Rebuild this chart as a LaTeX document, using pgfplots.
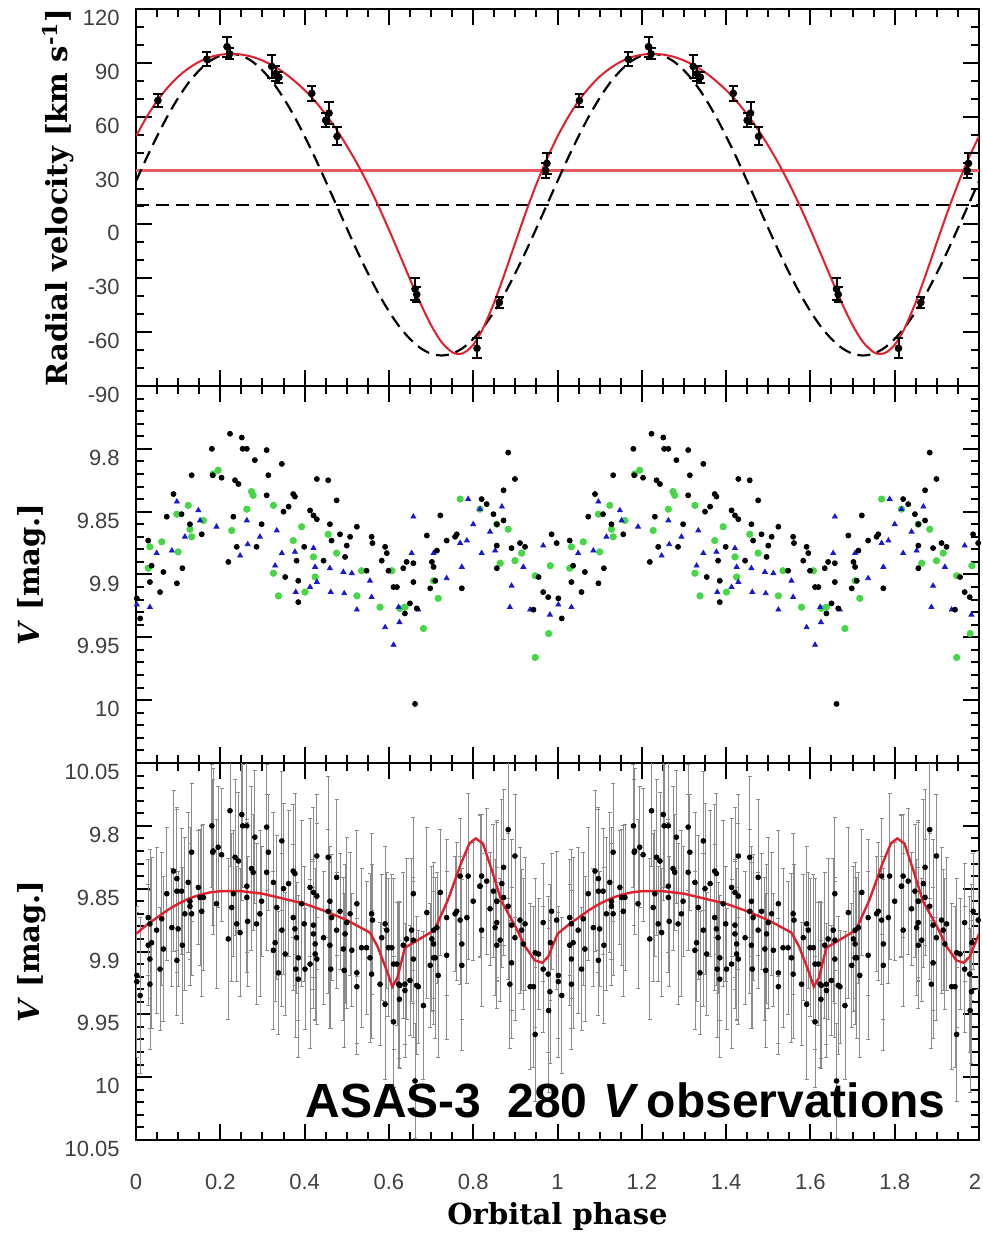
\documentclass[border=0pt]{standalone}
\usepackage{fontspec}
\setmainfont{Liberation Sans}
\newfontfamily\labfont{DejaVu Serif}
\usepackage{pgfplots}
\usepackage{pgfplotstable}
\pgfplotsset{compat=1.18}

\definecolor{fitred}{RGB}{224,32,44}
\definecolor{ptblue}{RGB}{25,25,210}
\definecolor{ptgreen}{RGB}{70,215,70}

% radial velocities (phase, km/s, error)
\pgfplotstableread{
p v e
0.052 69 3.5
0.168 92 4
0.216 99 5.5
0.222 95 3
0.322 88 6.5
0.331 84 4
0.339 82 3
0.417 73 4
0.458 62 6
0.450 58 4
0.477 49 5
0.662 -36 6
0.666 -39 4
0.809 -69 5.5
0.862 -43.5 3
0.975 34 6
0.972 30 4
}\rvdata

% eccentric orbit solution
\pgfplotstableread{
p v
0.000 49.1
0.025 59.7
0.050 68.8
0.075 76.2
0.100 82.3
0.125 87.0
0.150 90.6
0.175 93.1
0.200 94.5
0.225 95.0
0.250 94.6
0.275 93.4
0.300 91.3
0.325 88.4
0.350 84.7
0.375 80.1
0.400 74.8
0.425 68.6
0.450 61.3
0.475 53.1
0.500 43.8
0.525 33.7
0.550 22.5
0.575 10.3
0.600 -2.9
0.625 -16.6
0.650 -30.5
0.675 -44.0
0.700 -56.1
0.725 -65.6
0.750 -71.2
0.7625 -72.1
0.775 -71.8
0.7875 -70.0
0.800 -67.0
0.8125 -62.6
0.825 -57.1
0.850 -43.3
0.875 -27.1
0.900 -10.0
0.925 6.8
0.950 22.5
0.975 36.6
1.000 49.1
}\rvfit

% circular orbit solution
\pgfplotstableread{
p v
0.000 24.1
0.025 37.0
0.050 49.1
0.075 60.4
0.100 70.4
0.125 79.0
0.150 85.8
0.175 90.9
0.200 94.0
0.225 95.0
0.250 94.0
0.275 90.9
0.300 85.8
0.325 79.0
0.350 70.4
0.375 60.4
0.400 49.1
0.425 37.0
0.450 24.1
0.475 11.0
0.500 -2.1
0.525 -15.0
0.550 -27.1
0.575 -38.4
0.600 -48.4
0.625 -57.0
0.650 -63.8
0.675 -68.9
0.700 -72.0
0.725 -73.0
0.750 -72.0
0.775 -68.9
0.800 -63.8
0.825 -57.0
0.850 -48.4
0.875 -38.4
0.900 -27.1
0.925 -15.0
0.950 -2.1
0.975 11.0
1.000 24.1
}\rvcirc

% ASAS-3 V photometry, three subsets (phase, mag, error)
\pgfplotstableread{
p m e
0.002 9.919 0.050
0.010 9.935 0.062
0.029 9.873 0.046
0.033 9.906 0.055
0.037 9.893 0.068
0.057 9.914 0.049
0.065 9.898 0.058
0.073 9.854 0.053
0.089 9.836 0.064
0.097 9.907 0.044
0.108 9.852 0.050
0.110 9.895 0.062
0.128 9.860 0.046
0.132 9.821 0.055
0.156 9.868 0.068
0.180 9.800 0.049
0.182 9.821 0.058
0.203 9.823 0.053
0.219 9.890 0.064
0.223 9.788 0.044
0.231 9.854 0.050
0.235 9.825 0.062
0.239 9.878 0.046
0.243 9.828 0.055
0.251 9.791 0.068
0.253 9.800 0.049
0.263 9.800 0.058
0.282 9.809 0.053
0.286 9.878 0.064
0.298 9.860 0.044
0.310 9.801 0.050
0.310 9.837 0.062
0.314 9.821 0.046
0.346 9.812 0.055
0.350 9.850 0.068
0.354 9.902 0.049
0.362 9.846 0.058
0.373 9.836 0.053
0.377 9.838 0.064
0.381 9.889 0.044
0.385 9.905 0.050
0.385 9.922 0.062
0.399 9.878 0.046
0.413 9.849 0.055
0.421 9.853 0.068
0.429 9.824 0.049
0.429 9.856 0.058
0.445 9.889 0.053
0.456 9.825 0.064
0.460 9.860 0.044
0.464 9.873 0.050
0.476 9.841 0.062
0.484 9.868 0.046
0.496 9.886 0.055
0.500 9.877 0.068
0.508 9.870 0.049
0.524 9.862 0.058
0.547 9.897 0.053
0.559 9.870 0.064
0.561 9.875 0.044
0.583 9.889 0.050
0.591 9.878 0.062
0.595 9.883 0.046
0.599 9.897 0.055
0.611 9.910 0.068
0.619 9.910 0.049
0.634 9.895 0.058
0.638 9.931 0.053
0.642 9.890 0.064
0.650 9.923 0.044
0.658 9.891 0.050
0.658 9.906 0.062
0.662 10.003 0.046
0.666 9.927 0.055
0.690 9.869 0.068
0.698 9.911 0.049
0.702 9.890 0.058
0.706 9.894 0.053
0.710 9.905 0.064
0.714 9.881 0.044
0.722 9.853 0.050
0.737 9.873 0.062
0.757 9.870 0.046
0.761 9.868 0.055
0.773 9.911 0.068
0.820 9.840 0.049
0.832 9.844 0.058
0.848 9.852 0.053
0.856 9.860 0.064
0.856 9.877 0.044
0.856 9.895 0.050
0.872 9.833 0.062
0.872 9.857 0.046
0.883 9.803 0.055
0.891 9.879 0.068
0.899 9.824 0.049
0.911 9.875 0.058
0.923 9.878 0.053
0.943 9.928 0.064
0.955 9.902 0.044
0.966 9.914 0.050
0.978 9.918 0.062
0.986 9.868 0.046
0.998 9.875 0.055
}\tblack

\pgfplotstableread{
p m e
0.002 9.924 0.060
0.033 9.926 0.052
0.049 9.883 0.066
0.085 9.881 0.047
0.097 9.842 0.057
0.116 9.870 0.061
0.148 9.849 0.045
0.152 9.857 0.054
0.191 9.862 0.067
0.247 9.885 0.051
0.263 9.857 0.060
0.265 9.876 0.052
0.294 9.870 0.066
0.330 9.893 0.047
0.334 9.865 0.057
0.346 9.883 0.061
0.377 9.882 0.045
0.379 9.914 0.054
0.413 9.910 0.067
0.421 9.879 0.051
0.425 9.894 0.060
0.429 9.906 0.052
0.460 9.895 0.066
0.462 9.914 0.047
0.492 9.898 0.057
0.494 9.915 0.061
0.512 9.899 0.045
0.524 9.928 0.054
0.555 9.905 0.067
0.559 9.918 0.051
0.591 9.942 0.060
0.611 9.956 0.052
0.623 9.926 0.066
0.625 9.938 0.047
0.654 9.883 0.057
0.658 9.854 0.061
0.670 9.928 0.045
0.706 9.883 0.054
0.737 9.903 0.067
0.769 9.875 0.051
0.773 9.894 0.060
0.785 9.873 0.052
0.788 9.840 0.066
0.800 9.860 0.047
0.816 9.848 0.057
0.820 9.883 0.061
0.840 9.866 0.045
0.852 9.881 0.054
0.868 9.846 0.067
0.887 9.926 0.051
0.891 9.909 0.060
0.919 9.894 0.052
0.935 9.928 0.066
0.966 9.877 0.047
0.982 9.932 0.057
}\tblue

\pgfplotstableread{
p m e
0.029 9.895 0.048
0.033 9.878 0.059
0.061 9.874 0.053
0.097 9.852 0.065
0.100 9.882 0.046
0.124 9.845 0.056
0.128 9.864 0.063
0.132 9.870 0.049
0.160 9.857 0.058
0.183 9.820 0.066
0.195 9.817 0.048
0.227 9.865 0.059
0.263 9.848 0.053
0.274 9.834 0.065
0.278 9.837 0.046
0.326 9.845 0.056
0.326 9.899 0.063
0.338 9.917 0.049
0.373 9.873 0.058
0.393 9.862 0.066
0.401 9.914 0.048
0.421 9.886 0.059
0.425 9.902 0.053
0.456 9.868 0.065
0.476 9.883 0.046
0.524 9.917 0.056
0.535 9.897 0.063
0.579 9.926 0.049
0.607 9.897 0.058
0.626 9.927 0.066
0.638 9.926 0.048
0.682 9.943 0.059
0.706 9.905 0.053
0.717 9.919 0.065
0.769 9.840 0.046
0.816 9.848 0.056
0.856 9.860 0.063
0.864 9.891 0.049
0.883 9.864 0.058
0.899 9.889 0.066
0.915 9.883 0.048
0.947 9.901 0.059
0.947 9.966 0.053
0.979 9.947 0.065
0.983 9.893 0.046
}\tgreen

% light-curve model
\pgfplotstableread{
p m
0.000 9.886
0.025 9.879
0.050 9.873
0.075 9.867
0.100 9.862
0.125 9.858
0.150 9.855
0.175 9.853
0.200 9.852
0.250 9.852
0.300 9.854
0.350 9.858
0.400 9.862
0.450 9.868
0.500 9.875
0.555 9.885
0.573 9.896
0.597 9.917
0.608 9.928
0.620 9.921
0.638 9.897
0.668 9.891
0.708 9.883
0.740 9.859
0.771 9.830
0.791 9.814
0.806 9.810
0.823 9.814
0.843 9.834
0.867 9.860
0.900 9.880
0.923 9.896
0.946 9.907
0.964 9.909
0.978 9.904
1.000 9.886
}\lcmodel

\pgfplotsset{
  panel/.style={
    width=421.5pt, height=188.5pt, scale only axis,
    anchor=south west,
    xmin=0, xmax=2,
    xtick={0,0.2,0.4,0.6,0.8,1,1.2,1.4,1.6,1.8,2},
    minor x tick num=3,
    tick align=inside,
    major tick length=8pt, minor tick length=3.8pt,
    every tick/.style={black, line width=1pt},
    axis line style={line width=1.3pt},
    tick label style={font=\fontsize{11}{13}\selectfont, text=black!75},
    /pgf/number format/assume math mode=true,
    yticklabel style={anchor=east, inner sep=0pt, xshift=-8pt, yshift=-4.5pt},
    label style={font=\labfont\bfseries\fontsize{14.5}{17}\selectfont},
  },
  magpanel/.style={
    panel,
    y dir=reverse,
    ymin=9.75, ymax=10.05,
    ytick={9.75,9.8,9.85,9.9,9.95,10,10.05},
    yticklabels={,9.8,9.85,9.9,9.95,10,10.05},
    minor y tick num=4,
    ylabel={\textit{V} [mag.]},
    ylabel style={at={(axis description cs:-0.1234,0.5)}, anchor=center},
  },
  obs/.style={only marks, mark=*, mark size=1.2pt, black,
    error bars/.cd, y dir=both, y explicit,
    error bar style={black!45, line width=0.4pt},
    error mark options={rotate=90, mark size=1pt, black!45, line width=0.4pt}},
}

\begin{document}
\begin{tikzpicture}
\useasboundingbox (-68pt,-47pt) rectangle (423pt,570pt);

% radial velocity curve
\begin{axis}[panel, at={(0pt,377pt)},
  ymin=-90, ymax=120,
  ytick={-90,-60,-30,0,30,60,90,120},
  yticklabels={-90,-60,-30,0,30,60,90,120},
  minor y tick num=2,
  xticklabels={},
  ylabel={Radial velocity [km s\textsuperscript{-1}]},
  ylabel style={at={(axis description cs:-0.0925,0.5)}, anchor=center},
]
\addplot[black, line width=1.1pt, dash pattern=on 6.5pt off 3.5pt] coordinates {(0,11) (2,11)};
\addplot[fitred!75, line width=1.6pt] coordinates {(0,30) (2,30)};
\addplot[black, line width=1.1pt, dash pattern=on 6.5pt off 3.5pt, smooth] table[x=p, y=v] {\rvcirc};
\addplot[black, line width=1.1pt, dash pattern=on 6.5pt off 3.5pt, smooth] table[x expr=\thisrow{p}+1, y=v] {\rvcirc};
\addplot[fitred, line width=1pt, smooth] table[x=p, y=v] {\rvfit};
\addplot[fitred, line width=1pt, smooth] table[x expr=\thisrow{p}+1, y=v] {\rvfit};
\addplot[only marks, mark=*, mark size=1.7pt, black,
  error bars/.cd, y dir=both, y explicit,
  error bar style={black, line width=1pt},
  error mark options={rotate=90, mark size=2.3pt, black, line width=1pt}]
  table[x=p, y=v, y error=e] {\rvdata};
\addplot[only marks, mark=*, mark size=1.7pt, black,
  error bars/.cd, y dir=both, y explicit,
  error bar style={black, line width=1pt},
  error mark options={rotate=90, mark size=2.3pt, black, line width=1pt}]
  table[x expr=\thisrow{p}+1, y=v, y error=e] {\rvdata};
\end{axis}

% photometry by subset
\begin{axis}[magpanel, at={(0pt,188.5pt)}, xticklabels={}]
\addplot[only marks, mark=*, mark size=1.6pt, ptgreen] table[x=p, y=m] {\tgreen};
\addplot[only marks, mark=*, mark size=1.6pt, ptgreen] table[x expr=\thisrow{p}+1, y=m] {\tgreen};
\addplot[only marks, mark=triangle*, mark size=1.4pt, ptblue] table[x=p, y=m] {\tblue};
\addplot[only marks, mark=triangle*, mark size=1.4pt, ptblue] table[x expr=\thisrow{p}+1, y=m] {\tblue};
\addplot[only marks, mark=*, mark size=1.25pt, black] table[x=p, y=m] {\tblack};
\addplot[only marks, mark=*, mark size=1.25pt, black] table[x expr=\thisrow{p}+1, y=m] {\tblack};
\end{axis}

% all observations with errors and the model
\begin{axis}[magpanel, at={(0pt,0pt)},
  xticklabels={0,0.2,0.4,0.6,0.8,1,1.2,1.4,1.6,1.8,{\hspace*{-4pt}2}},
  xticklabel style={anchor=center, yshift=-21pt},
  xlabel={Orbital phase},
  xlabel style={at={(axis description cs:0.5,-0.204)}, anchor=center},
]
\addplot[obs] table[x=p, y=m, y error=e] {\tblack};
\addplot[obs] table[x expr=\thisrow{p}+1, y=m, y error=e] {\tblack};
\addplot[obs] table[x=p, y=m, y error=e] {\tblue};
\addplot[obs] table[x expr=\thisrow{p}+1, y=m, y error=e] {\tblue};
\addplot[obs] table[x=p, y=m, y error=e] {\tgreen};
\addplot[obs] table[x expr=\thisrow{p}+1, y=m, y error=e] {\tgreen};
\addplot[fitred, line width=1.2pt] table[x=p, y=m] {\lcmodel};
\addplot[fitred, line width=1.2pt] table[x expr=\thisrow{p}+1, y=m] {\lcmodel};
\node[anchor=base west, inner sep=0pt, font=\bfseries\fontsize{24}{28}\selectfont]
  at (axis cs:0.401,10.032) {ASAS-3\hspace{13pt}280\hspace{8pt}\textit{V}\hspace{4pt}observations};
\end{axis}
\end{tikzpicture}
\end{document}
